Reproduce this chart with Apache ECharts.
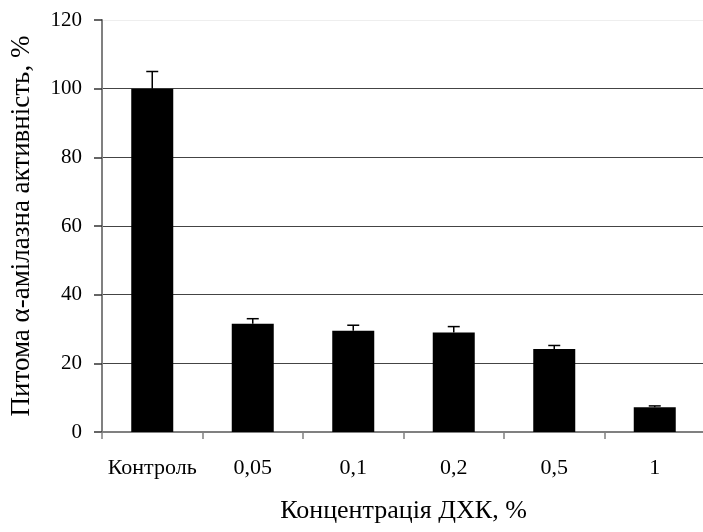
<!DOCTYPE html>
<html>
<head>
<meta charset="utf-8">
<script src="https://cdn.jsdelivr.net/npm/echarts@6/dist/echarts.min.js"></script>
<style>
  html, body { margin: 0; padding: 0; background: #fff; }
  #chart { width: 703px; height: 532px; }
</style>
</head>
<body>
<div id="chart"></div>
<script>
// Specific alpha-amylase activity vs. DCC concentration
const categories = ['Контроль', '0,05', '0,1', '0,2', '0,5', '1'];
const activity = [100, 31.5, 29.5, 29.0, 24.2, 7.2];
const errors = [5.0, 1.5, 1.6, 1.7, 1.0, 0.4];
const yTicks = { min: 0, max: 120, interval: 20 };

const FONT = '"Liberation Serif", "DejaVu Serif", serif';

const chart = echarts.init(document.getElementById('chart'), null, { renderer: 'canvas' });

const errorData = categories.map((c, i) => [i, activity[i], activity[i] + errors[i]]);

chart.setOption({
  animation: false,
  backgroundColor: '#ffffff',
  grid: { left: 102, top: 20, width: 603, height: 412, containLabel: false, outerBoundsMode: 'none' },
  xAxis: {
    type: 'category',
    data: categories,
    boundaryGap: true,
    name: 'Концентрація ДХК, %',
    nameLocation: 'middle',
    nameGap: 66,
    nameTextStyle: { fontFamily: FONT, fontSize: 26, color: '#000' },
    axisLine: { lineStyle: { color: '#808080', width: 2 } },
    axisTick: { show: true, interval: 0, alignWithLabel: false, length: 7, lineStyle: { color: '#808080', width: 1.5 } },
    axisLabel: { interval: 0, hideOverlap: false, fontFamily: FONT, fontSize: 22, color: '#000', margin: 25 },
    splitLine: { show: false }
  },
  yAxis: {
    type: 'value',
    min: yTicks.min,
    max: yTicks.max,
    interval: yTicks.interval,
    name: 'Питома α-амілазна активність, %',
    nameLocation: 'middle',
    nameGap: 67,
    nameTextStyle: { fontFamily: FONT, fontSize: 27, color: '#000' },
    axisLine: { show: true, lineStyle: { color: '#808080', width: 2 } },
    axisTick: { show: true, length: 8, lineStyle: { color: '#333', width: 1.5 } },
    axisLabel: { fontFamily: FONT, fontSize: 21, color: '#000', margin: 20 },
    splitLine: {
      show: true,
      lineStyle: { color: ['#444', '#444', '#444', '#444', '#444', '#444', '#eeeeee'], width: 1.2 }
    }
  },
  series: [
    {
      type: 'bar',
      data: activity,
      barWidth: 42,
      itemStyle: { color: '#000' },
      z: 3
    },
    {
      type: 'custom',
      data: errorData,
      z: 4,
      renderItem: function (params, api) {
        const x = api.value(0);
        const base = api.coord([x, api.value(1)]);
        const top = api.coord([x, api.value(2)]);
        const half = 6;
        const style = { stroke: '#000', lineWidth: 1.5 };
        return {
          type: 'group',
          children: [
            { type: 'line', shape: { x1: base[0], y1: base[1], x2: top[0], y2: top[1] }, style: style },
            { type: 'line', shape: { x1: top[0] - half, y1: top[1], x2: top[0] + half, y2: top[1] }, style: style }
          ]
        };
      }
    }
  ]
});
</script>
</body>
</html>
